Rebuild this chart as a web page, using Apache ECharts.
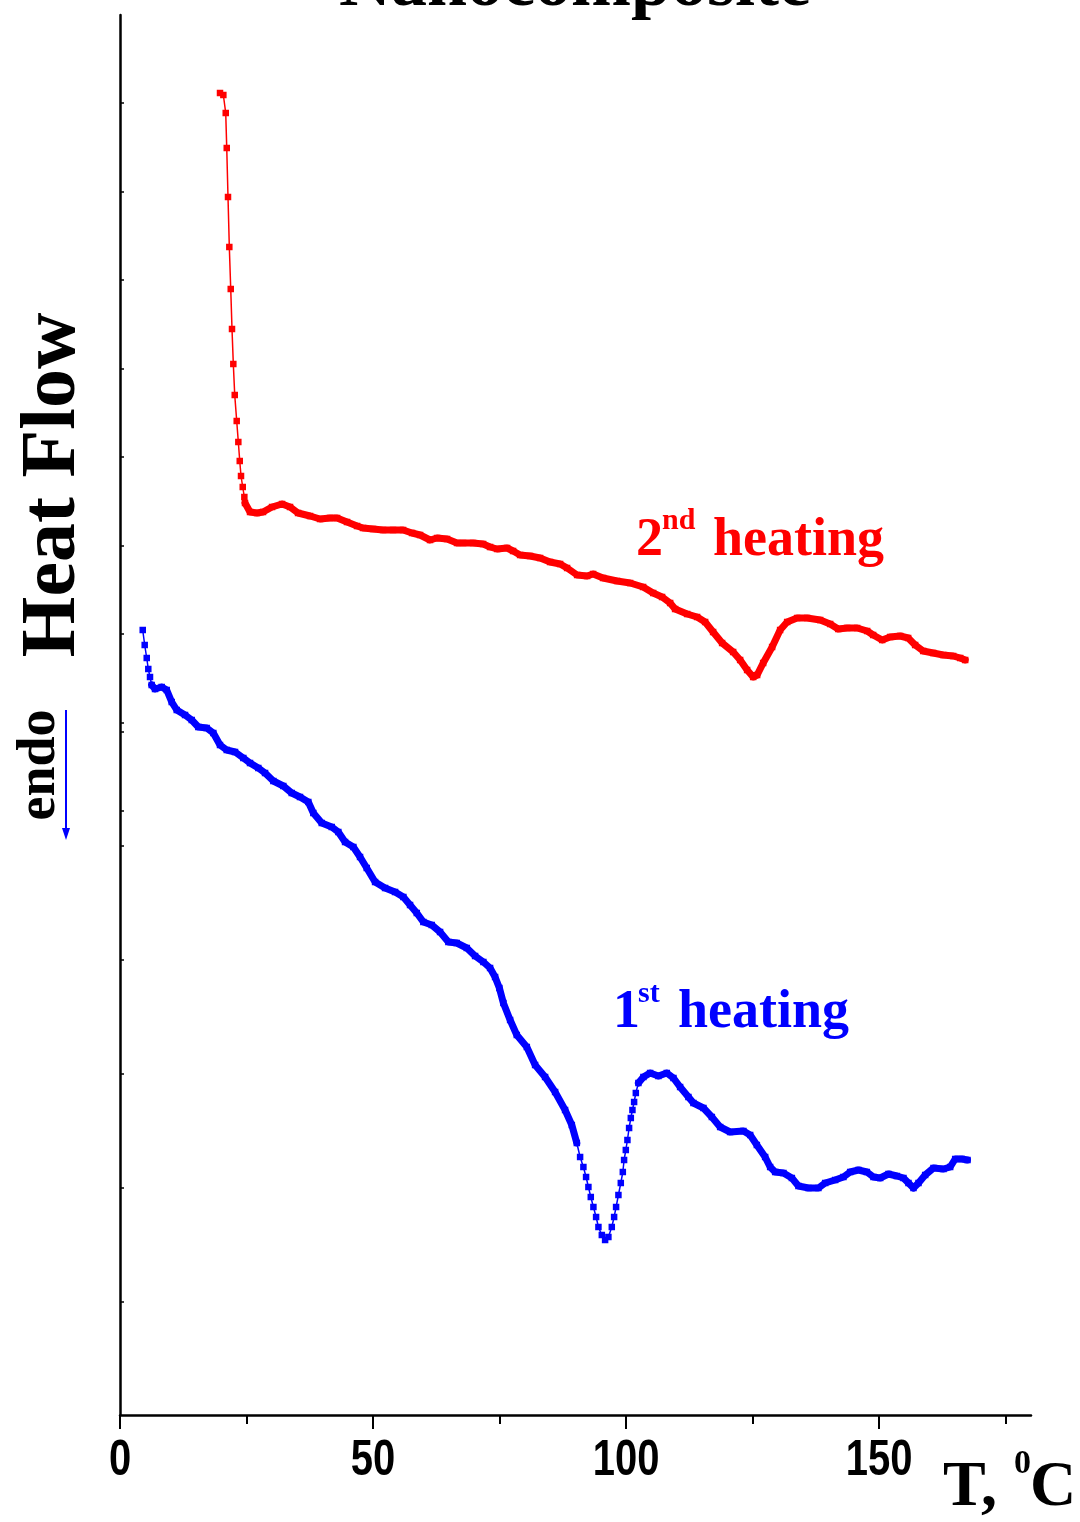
<!DOCTYPE html>
<html>
<head>
<meta charset="utf-8">
<script src="https://cdn.jsdelivr.net/npm/echarts@6/dist/echarts.min.js"></script>
<style>
html,body{margin:0;padding:0;background:#fff;}
#chart{width:1080px;height:1522px;}
</style>
</head>
<body>
<div id="chart"></div>
<script>
// ---- Data ----
const xTickLabels = [0, 50, 100, 150];
const xMinorTicks = [25, 75, 125, 175];
const yTickValues = [131.2, 122.35, 113.5, 104.65, 95.8, 86.95, 78.1, 69.25, 60.4, 68.3, 56.9, 45.5, 34.1, 22.7, 11.3];

// 2nd heating (red)
const redT = [19.76,20.42,20.89,21.09,21.34,21.60,21.88,22.13,22.39,22.67,23.06,23.38,23.66,23.91,24.25,24.57,24.70,25.69,27.08,28.26,30.04,32.02,33.60,35.18,37.55,39.53,41.50,42.89,44.86,46.84,48.02,50.00,51.98,53.95,55.93,57.71,59.29,61.26,62.65,64.62,66.60,67.79,69.76,71.74,73.12,74.51,76.48,77.67,79.05,81.03,83.00,84.98,86.96,88.34,90.32,92.29,93.48,95.45,98.22,100.79,103.36,105.34,107.11,108.70,109.68,112.06,114.03,115.61,117.19,118.97,121.15,122.53,123.91,125.10,125.89,127.08,128.85,130.43,131.82,133.79,135.77,138.34,140.32,141.90,143.68,145.65,147.63,148.81,150.59,152.17,154.15,155.73,157.11,158.70,160.67,162.65,164.62,166.01,167.00];
const redHF = [132.2,132.0,130.2,126.7,121.8,116.8,112.6,108.6,105.1,102.0,99.4,97.3,95.4,93.9,92.8,91.8,91.2,90.3,90.2,90.3,90.8,91.1,90.8,90.2,89.9,89.6,89.7,89.7,89.3,88.9,88.7,88.6,88.5,88.5,88.5,88.2,88.0,87.5,87.7,87.6,87.2,87.2,87.2,87.1,86.8,86.6,86.7,86.4,86.0,85.9,85.7,85.3,85.1,84.7,84.0,83.9,84.1,83.7,83.4,83.2,82.8,82.2,81.8,81.2,80.6,80.1,79.8,79.3,78.3,77.2,76.3,75.5,74.5,73.8,74.0,75.2,76.8,78.5,79.3,79.7,79.7,79.5,79.1,78.6,78.7,78.7,78.4,78.0,77.5,77.8,77.9,77.7,77.0,76.4,76.2,76.0,75.9,75.7,75.5];

// 1st heating (blue)
const blueT = [4.49,4.88,5.28,5.59,5.93,6.26,6.92,8.24,9.23,10.22,11.21,12.85,14.17,15.47,17.13,18.44,19.76,21.09,22.73,24.37,25.69,27.33,28.66,30.30,32.27,33.93,35.57,37.21,38.20,39.86,41.84,43.14,44.47,46.11,47.43,48.75,50.40,52.37,54.35,55.99,57.31,58.64,59.94,61.60,63.24,64.88,66.54,68.52,70.16,71.80,73.12,74.11,74.96,75.75,77.08,78.40,80.38,82.02,83.99,85.97,87.94,89.27,90.26,90.91,91.56,92.09,92.55,93.02,93.54,94.07,94.53,95.20,95.85,96.50,97.17,97.63,98.02,98.48,98.95,99.35,99.60,99.94,100.26,100.59,100.93,101.25,101.58,101.92,102.43,103.42,104.74,106.38,108.04,109.35,110.67,112.31,113.30,115.28,116.94,118.58,120.55,123.18,124.51,125.83,127.47,128.46,129.45,131.09,132.75,134.05,136.03,138.00,139.33,141.30,142.94,144.27,145.91,147.57,148.87,150.20,151.84,153.50,154.80,155.79,156.78,157.77,159.09,160.73,162.71,164.03,165.02,166.34,167.45];
const blueHF = [78.5,77.0,75.7,74.6,73.8,73.0,72.6,72.8,72.5,71.3,70.5,70.0,69.5,68.8,68.7,68.2,67.0,66.5,66.3,65.7,65.2,64.7,64.2,63.4,62.9,62.2,61.8,61.3,60.2,59.2,58.8,58.3,57.3,56.8,55.8,54.7,53.3,52.7,52.3,51.8,51.0,50.2,49.3,49.0,48.3,47.3,47.2,46.7,45.9,45.3,44.7,43.8,42.7,41.2,39.5,38.0,36.8,35.0,33.8,32.3,30.5,29.0,27.2,25.8,24.8,23.8,22.8,21.8,20.8,19.8,18.8,18.0,17.5,17.8,18.8,19.8,20.8,22.0,23.2,24.3,25.5,26.5,27.5,28.7,29.7,30.5,31.3,32.2,33.2,33.8,34.2,33.9,34.2,33.7,32.8,31.8,31.2,30.7,29.8,28.8,28.3,28.4,28.0,27.0,25.8,24.8,24.3,24.2,23.7,22.9,22.7,22.7,23.2,23.5,23.8,24.3,24.5,24.3,23.8,23.7,24.1,23.9,23.7,23.2,22.7,23.2,24.0,24.7,24.6,24.8,25.6,25.6,25.5];

// ---- Build series data ----
function zip(a, b) { const n = Math.min(a.length, b.length); const r = []; for (let i = 0; i < n; i++) r.push([a[i], b[i]]); return r; }
const redData = zip(redT, redHF);
const blueData = zip(blueT, blueHF);
// dense (overlapping-marker) stretches drawn as a thick trace
const redDense = redData.map(p => p[0] >= 24.6 ? p : [p[0], '-']);
const blueDense = blueData.map(p => ((p[0] >= 6.2 && p[0] <= 90.3) || p[0] >= 102.4) ? p : [p[0], '-']);

const RED = '#ff0000', BLUE = '#0000ff';
const SERIF = '"Liberation Serif", "Times New Roman", serif';
const SANS = '"Liberation Sans", Arial, sans-serif';

const texts = [
  { type: 'text', x: 575, y: -14, style: { text: 'Nanocomposite', font: 'bold 72px ' + SERIF, fill: '#000', textAlign: 'center', textVerticalAlign: 'middle' } },
  // y-axis title
  { type: 'text', x: 54, y: 485, rotation: Math.PI / 2, style: { text: 'Heat Flow', font: 'bold 78px ' + SERIF, fill: '#000', textAlign: 'center', textVerticalAlign: 'middle' } },
  { type: 'text', x: 40, y: 765, rotation: Math.PI / 2, style: { text: 'endo', font: 'bold 54px ' + SERIF, fill: '#000', textAlign: 'center', textVerticalAlign: 'middle' } },
  { type: 'line', shape: { x1: 66, y1: 710, x2: 66, y2: 832 }, style: { stroke: BLUE, lineWidth: 2 } },
  { type: 'polygon', shape: { points: [[62, 828], [70, 828], [66, 840]] }, style: { fill: BLUE } },
  // x-axis title
  { type: 'text', x: 943, y: 1488, style: { text: 'T,', font: 'bold 64px ' + SERIF, fill: '#000', textAlign: 'left', textVerticalAlign: 'middle' } },
  { type: 'text', x: 1014, y: 1464, style: { text: '0', font: 'bold 34px ' + SERIF, fill: '#000', textAlign: 'left', textVerticalAlign: 'middle' } },
  { type: 'text', x: 1030, y: 1488, style: { text: 'C', font: 'bold 64px ' + SERIF, fill: '#000', textAlign: 'left', textVerticalAlign: 'middle' } },
  // curve labels
  { type: 'text', x: 636, y: 541, style: { text: '2', font: 'bold 54px ' + SERIF, fill: RED, textAlign: 'left', textVerticalAlign: 'middle' } },
  { type: 'text', x: 662, y: 521, style: { text: 'nd', font: 'bold 30px ' + SERIF, fill: RED, textAlign: 'left', textVerticalAlign: 'middle' } },
  { type: 'text', x: 713, y: 541, style: { text: 'heating', font: 'bold 54px ' + SERIF, fill: RED, textAlign: 'left', textVerticalAlign: 'middle' } },
  { type: 'text', x: 613, y: 1013, style: { text: '1', font: 'bold 54px ' + SERIF, fill: BLUE, textAlign: 'left', textVerticalAlign: 'middle' } },
  { type: 'text', x: 638, y: 994, style: { text: 'st', font: 'bold 30px ' + SERIF, fill: BLUE, textAlign: 'left', textVerticalAlign: 'middle' } },
  { type: 'text', x: 678, y: 1013, style: { text: 'heating', font: 'bold 54px ' + SERIF, fill: BLUE, textAlign: 'left', textVerticalAlign: 'middle' } }
];

const chart = echarts.init(document.getElementById('chart'), null, { renderer: 'canvas' });
chart.setOption({
  animation: false,
  backgroundColor: '#fff',
  grid: { left: 120, right: 49, top: 15, bottom: 107, containLabel: false },
  xAxis: [{
    type: 'value', min: 0, max: 180, interval: 50,
    axisLine: { show: true, onZero: false, lineStyle: { color: '#000', width: 2.5 } },
    axisTick: { show: true, inside: false, length: 14, customValues: xTickLabels, lineStyle: { color: '#000', width: 2 } },
    axisLabel: { show: false },
    splitLine: { show: false }
  }, {
    type: 'value', min: 0, max: 180, position: 'bottom',
    axisLine: { show: false },
    axisTick: { show: true, inside: false, length: 9, customValues: xMinorTicks, lineStyle: { color: '#000', width: 2 } },
    axisLabel: { show: false },
    splitLine: { show: false }
  }],
  yAxis: [{
    type: 'value', min: 0, max: 140,
    axisLine: { show: true, onZero: false, lineStyle: { color: '#000', width: 2.5 } },
    axisTick: { show: true, inside: true, length: 4, customValues: yTickValues, lineStyle: { color: '#000', width: 1.5 } },
    axisLabel: { show: false },
    splitLine: { show: false }
  }],
  series: [
    { name: '2nd heating thick', type: 'line', xAxisIndex: 0, data: redDense, showSymbol: false, connectNulls: false,
      lineStyle: { color: RED, width: 7, cap: 'round', join: 'round' }, z: 2, silent: true },
    { name: '2nd heating', type: 'line', xAxisIndex: 0, data: redData, symbol: 'rect', symbolSize: 6.5, showAllSymbol: true,
      itemStyle: { color: RED }, lineStyle: { color: RED, width: 1.5 }, z: 3 },
    { name: '1st heating thick', type: 'line', xAxisIndex: 0, data: blueDense, showSymbol: false, connectNulls: false,
      lineStyle: { color: BLUE, width: 7, cap: 'round', join: 'round' }, z: 2, silent: true },
    { name: '1st heating', type: 'line', xAxisIndex: 0, data: blueData, symbol: 'rect', symbolSize: 6.5, showAllSymbol: true,
      itemStyle: { color: BLUE }, lineStyle: { color: BLUE, width: 1.5 }, z: 3 }
  ],
  graphic: texts
});

// x tick labels: condensed bold numerals placed at the axis' own pixel positions
const tickTexts = xTickLabels.map(v => {
  const px = chart.convertToPixel({ xAxisIndex: 0 }, v);
  return { type: 'text', x: px, y: 1461, scaleX: 0.8,
    style: { text: String(v), font: 'bold 50px ' + SANS, fill: '#000', textAlign: 'center', textVerticalAlign: 'middle' } };
});
chart.setOption({ graphic: texts.concat(tickTexts) });
</script>
</body>
</html>
